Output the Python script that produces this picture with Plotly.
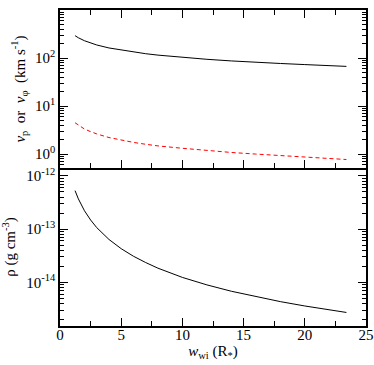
import plotly.graph_objects as go

# radial distance w_wi (R*)
w = [1.23, 1.5, 2, 2.5, 3, 4, 5, 6, 7, 8, 10, 12, 14, 16, 18, 20, 22, 23.4]
# poloidal velocity v_p (km/s)
v_p = [292, 264, 229, 205, 187, 162, 146, 133, 123, 115, 103, 94, 87, 81, 77, 73, 69, 67]
# toroidal velocity v_phi (km/s)
v_phi = [4.49, 3.98, 3.32, 2.93, 2.63, 2.21, 1.95, 1.75, 1.60, 1.48, 1.32, 1.18, 1.08,
         1.00, 0.93, 0.86, 0.81, 0.77]
# density rho (g cm^-3)
rho = [5.30e-13, 3.71e-13, 2.22e-13, 1.49e-13, 1.07e-13, 6.41e-14, 4.30e-14, 3.10e-14,
       2.36e-14, 1.85e-14, 1.24e-14, 8.97e-15, 6.81e-15, 5.37e-15, 4.35e-15, 3.60e-15,
       3.03e-15, 2.72e-15]

x_ticks = [0, 5, 10, 15, 20, 25]
x_minor = [2.5, 7.5, 12.5, 17.5, 22.5]
top_tickvals = [1, 10, 100, 1000]
top_ticktext = ["10<sup>0</sup>", "10<sup>1</sup>", "10<sup>2</sup>", "10<sup>3</sup>"]
bot_tickvals = [1e-14, 1e-13, 1e-12]
bot_ticktext = ["10<sup>-14</sup>", "10<sup>-13</sup>", "10<sup>-12</sup>"]

FONT = "Liberation Serif"

TOP_RANGE = [-0.29, 3]
BOT_RANGE = [-14.82, -11.85]


def minor_log(lo, hi, rng):
    vals = []
    for e in range(lo, hi):
        for m in range(2, 10):
            v = m * 10.0 ** e
            if 10 ** rng[0] < v < 10 ** rng[1]:
                vals.append(v)
    return vals


fig = go.Figure()
fig.add_trace(go.Scatter(x=w, y=v_p, mode="lines", line=dict(color="black", width=1),
                         xaxis="x2", yaxis="y2", showlegend=False))
fig.add_trace(go.Scatter(x=w, y=v_phi, mode="lines",
                         line=dict(color="#ff0000", width=1, dash="4px,3px"),
                         xaxis="x2", yaxis="y2", showlegend=False))
fig.add_trace(go.Scatter(x=w, y=rho, mode="lines", line=dict(color="black", width=1),
                         xaxis="x", yaxis="y", showlegend=False))


def ax(mirror):
    return dict(showline=True, linecolor="black", linewidth=1.5, mirror=mirror,
                ticks="inside", ticklen=8, tickwidth=1.3, tickcolor="black",
                showgrid=False, zeroline=False, automargin=False,
                tickfont=dict(family=FONT, size=15, color="black"))


xminor = dict(tickmode="array", tickvals=x_minor,
              ticks="inside", ticklen=5, tickwidth=1.2, tickcolor="black", showgrid=False)

fig.update_layout(
    width=374, height=365,
    margin=dict(l=60, r=8, t=10, b=39),
    paper_bgcolor="white", plot_bgcolor="white",
    xaxis=dict(domain=[0, 1], anchor="y", range=[0, 25], tickmode="array",
               tickvals=x_ticks, minor=xminor, ticklabelstandoff=-6,
               title=dict(text="<i>w</i><sub>wi</sub> (R<sub>*</sub>)",
                          font=dict(family=FONT, size=15, color="black"), standoff=0),
               **ax(False)),
    xaxis2=dict(domain=[0, 1], anchor="y2", range=[0, 25], tickmode="array",
                tickvals=x_ticks, showticklabels=False, minor=xminor,
                **ax("ticks")),
    yaxis=dict(domain=[0, 0.5], anchor="x", type="log", range=BOT_RANGE,
               tickmode="array", tickvals=bot_tickvals, ticktext=bot_ticktext,
               minor=dict(tickmode="array", tickvals=minor_log(-15, -11, BOT_RANGE),
                          ticks="inside", ticklen=4, tickwidth=1.2, tickcolor="black",
                          showgrid=False),
               title=dict(text="ρ (g cm<sup>-3</sup>)",
                          font=dict(family=FONT, size=15, color="black"), standoff=8),
               **ax("ticks")),
    yaxis2=dict(domain=[0.5, 1], anchor="x2", type="log", range=TOP_RANGE,
                tickmode="array", tickvals=top_tickvals, ticktext=top_ticktext,
                minor=dict(tickmode="array", tickvals=minor_log(-1, 3, TOP_RANGE),
                           ticks="inside", ticklen=4, tickwidth=1.2, tickcolor="black",
                           showgrid=False),
                title=dict(text="<i>v</i><sub>p</sub>  or  <i>v</i><sub>φ</sub>  (km s<sup>-1</sup>)",
                           font=dict(family=FONT, size=15, color="black"), standoff=6),
                **ax("ticks")),
)

fig.write_html("out.html", config={"displayModeBar": False},
               post_script="document.body.style.margin='0';document.body.style.padding='0';")
